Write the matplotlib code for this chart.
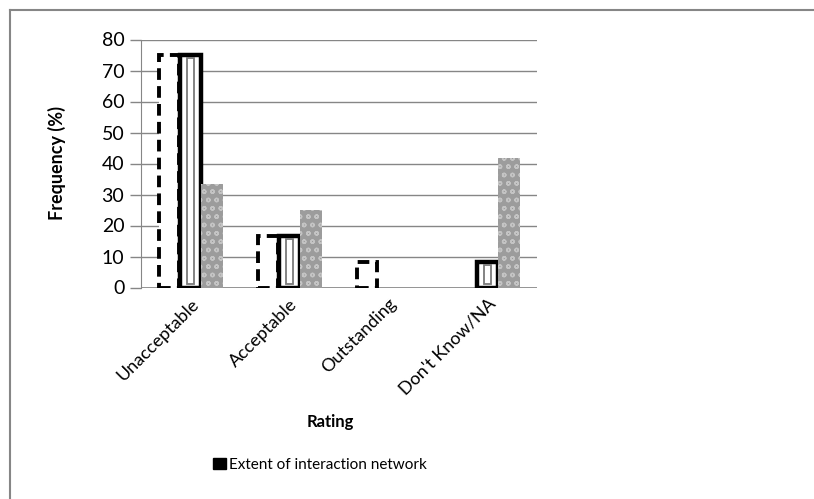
import matplotlib.pyplot as plt
import matplotlib.patches as patches
from matplotlib.lines import Line2D
import numpy as np

plt.rcParams['font.family'] = ['Lato', 'DejaVu Sans']

# Data
categories = ['Unacceptable', 'Acceptable', 'Outstanding', "Don't Know/NA"]
series_dashed = [75, 16.7, 8.3, 0]
series_solid = [75, 16.7, 0, 8.3]
series_gray = [33.3, 25, 0, 41.7]
y_ticks = [0, 10, 20, 30, 40, 50, 60, 70, 80]

fig = plt.figure(figsize=(8.14, 4.99), dpi=100)
ax = fig.add_axes([141 / 814, 1 - 287.5 / 499, 396 / 814, 248 / 499])

x = np.arange(len(categories))
w = 0.22

# keep zero-height bars out, like the original
def nz(vals):
    idx = [i for i, v in enumerate(vals) if v > 0]
    return np.array(idx), [vals[i] for i in idx]

i1, v1 = nz(series_dashed)
ax.bar(i1 - w, v1, width=w * 0.92, facecolor='white', edgecolor='black',
       linewidth=2.8, linestyle=(0, (3, 1.6)), zorder=3)

i2, v2 = nz(series_solid)
ax.bar(i2, v2, width=w, facecolor='white', edgecolor='black', linewidth=3.2, zorder=3)
# inner gray line of the double-border bar
ax.bar(i2, [v - 2.2 for v in v2], bottom=1.1, width=w * 0.35, facecolor='white',
       edgecolor='#7a7a7a', linewidth=1.3, zorder=4)

i3, v3 = nz(series_gray)
ax.bar(i3 + w, v3, width=w, facecolor='#9c9c9c', edgecolor='#c4c4c4', hatch='oo',
       linewidth=0, zorder=3)

ax.set_xlim(-0.5, len(categories) - 0.5)
ax.set_ylim(0, 80)
ax.set_yticks(y_ticks)
ax.tick_params(axis='y', labelsize=14, length=8, color='#868686', width=1, pad=4)
ax.set_xticks(x)
ax.set_xticklabels(categories, rotation=45, ha='right', rotation_mode='anchor', fontsize=13)
ax.tick_params(axis='x', length=0, pad=6)
ax.grid(axis='y', color='#868686', linewidth=1, zorder=0)
for s in ['top', 'right', 'bottom']:
    ax.spines[s].set_visible(False)
ax.spines['left'].set_color('#868686')
ax.axhline(0, color='#868686', linewidth=1.2, zorder=2)

fig.text(57 / 814, 1 - 163 / 499, 'Frequency (%)', rotation=90, ha='center', va='center',
         fontsize=13, fontweight='bold')
fig.text(330 / 814, 1 - 422 / 499, 'Rating', ha='center', va='center',
         fontsize=12, fontweight='bold')

handle = patches.Patch(facecolor='black', edgecolor='black', hatch='--')
fig.legend([handle], ['Extent of interaction network'], loc='center',
           bbox_to_anchor=(320 / 814, 1 - 465 / 499), frameon=False, fontsize=11,
           handlelength=0.9, handleheight=0.7, handletextpad=0.2)

# chart border (left and top edge visible)
fig.add_artist(Line2D([10 / 814, 10 / 814], [0, 1 - 10 / 499], color='#868686', linewidth=1.5))
fig.add_artist(Line2D([10 / 814, 1], [1 - 10 / 499, 1 - 10 / 499], color='#868686', linewidth=1.5))

plt.savefig('out.png', dpi=100)
plt.close()
